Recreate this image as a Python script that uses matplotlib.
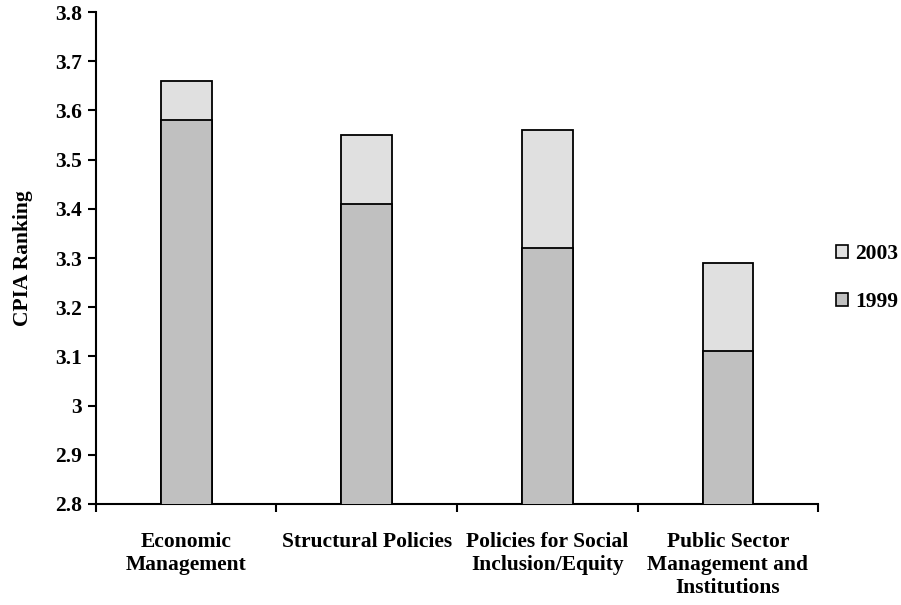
import numpy as np
import matplotlib.pyplot as plt
from matplotlib.patches import Patch

categories = ["Economic\nManagement", "Structural Policies",
              "Policies for Social\nInclusion/Equity",
              "Public Sector\nManagement and\nInstitutions"]
v1999 = [3.58, 3.41, 3.32, 3.11]
v2003 = [3.66, 3.55, 3.56, 3.29]

plt.rcParams["font.family"] = "Liberation Serif"
plt.rcParams["font.weight"] = "bold"

fig = plt.figure(figsize=(9.01, 6.05), dpi=100)
ax = fig.add_axes([0.1065, 0.167, 0.8015, 0.813])

x = np.arange(len(categories))
ax.bar(x, v2003, width=0.28, color="#e0e0e0", edgecolor="black", linewidth=1.3, zorder=2)
ax.bar(x, v1999, width=0.28, color="#c0c0c0", edgecolor="black", linewidth=1.3, zorder=3)

ax.set_xlim(-0.5, len(categories) - 0.5)
ax.set_ylim(2.8, 3.8)
ax.set_yticks(np.arange(2.8, 3.81, 0.1))
ax.set_yticklabels(["2.8", "2.9", "3", "3.1", "3.2", "3.3", "3.4", "3.5", "3.6", "3.7", "3.8"])
ax.set_xticks(x)
ax.set_xticklabels(categories, fontsize=15.5, fontweight="bold", linespacing=1.2)
ax.set_xticks(np.arange(-0.5, len(categories), 1.0), minor=True)
ax.tick_params(axis="x", which="major", length=0, pad=20)
ax.tick_params(axis="x", which="minor", length=6, width=1.5, direction="out")
ax.tick_params(axis="y", length=6, width=1.5, direction="out", labelsize=15.5, pad=4)
for lab in ax.get_yticklabels():
    lab.set_fontweight("bold")

for s in ["top", "right"]:
    ax.spines[s].set_visible(False)
for s in ["left", "bottom"]:
    ax.spines[s].set_linewidth(1.5)

ax.set_ylabel("CPIA Ranking", fontsize=15.5, fontweight="bold", labelpad=16)

handles = [Patch(facecolor="#e0e0e0", edgecolor="black", linewidth=1.2),
           Patch(facecolor="#c0c0c0", edgecolor="black", linewidth=1.2)]
fig.legend(handles, ["2003", "1999"], loc="center left",
           bbox_to_anchor=(0.928, 0.540), frameon=False,
           borderpad=0, borderaxespad=0,
           handlelength=0.55, handleheight=0.55, handletextpad=0.35,
           labelspacing=1.3, prop={"family": "Liberation Serif", "weight": "bold", "size": 15.5})

fig.savefig("out.png", dpi=100)
